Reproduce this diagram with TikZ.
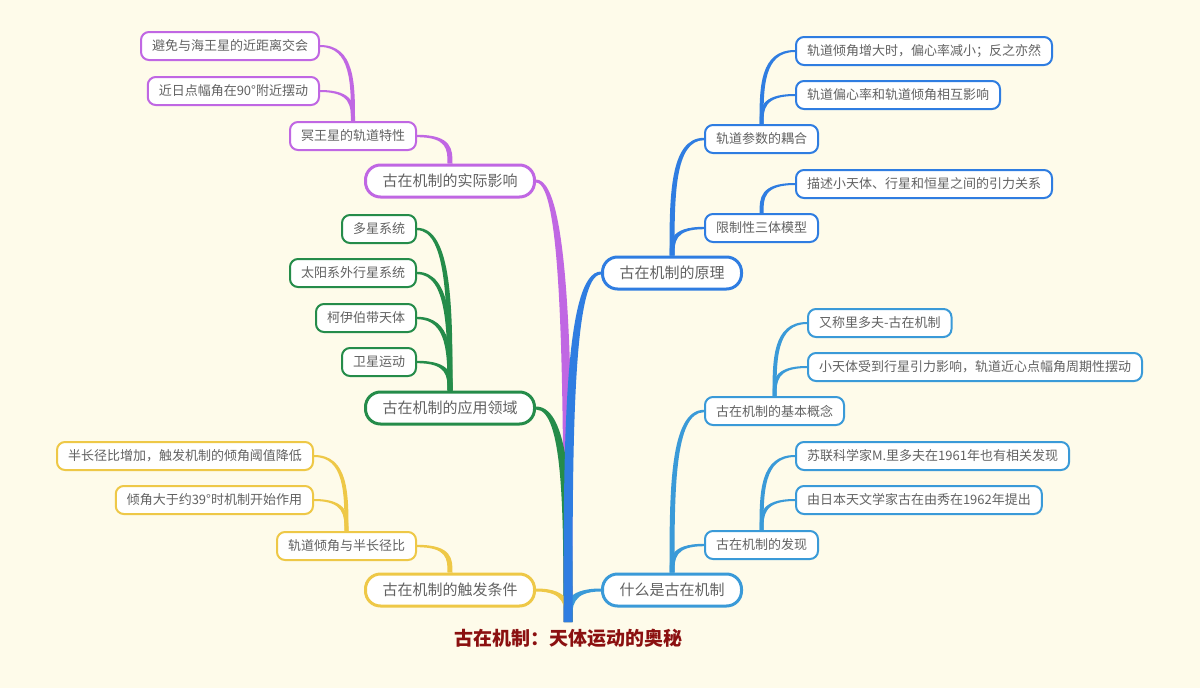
\documentclass[tikz,border=0pt]{standalone}
\usepackage{fontspec}
\setmainfont{Noto Sans CJK SC}
\usetikzlibrary{calc}
\pgfdeclarelayer{bglayer}
\pgfdeclarelayer{connlayer}
\pgfsetlayers{bglayer,connlayer,main}
\definecolor{bg}{HTML}{FEFBEA}
\definecolor{cpur}{HTML}{C067E3}
\definecolor{cgrn}{HTML}{258C4A}
\definecolor{cyel}{HTML}{EEC847}
\definecolor{cblu}{HTML}{2F7DE1}
\definecolor{clbl}{HTML}{3A9AD8}
\definecolor{txt}{HTML}{626262}
\definecolor{rootred}{HTML}{8B1010}
\newcommand{\rootfs}{\fontsize{19}{23}\selectfont}
\newcommand{\mainfs}{\fontsize{15}{18}\selectfont}
\newcommand{\subfs}{\fontsize{13}{16}\selectfont}
% tapered connector: #1 colour, #2 vertical end, #3 horizontal end, #4 half width at #2, #5 half width at #3, #6 sign
\newcommand{\conn}[6]{%
  \fill[#1] let \p1=(#2), \p2=(#3), \p3=($(#2)!.5!(#3)$) in
    ({\x1-(#6)*#4},\y1) .. controls ({\x1-(#6)*#4},\y3) and ({\x1-(#6)*#4},{\y2+#5}) .. (\x2,{\y2+#5})
    -- (\x2,{\y2-#5}) .. controls ({\x1+(#6)*#4},{\y2-#5}) and ({\x1+(#6)*#4},\y3) .. ({\x1+(#6)*#4},\y1) -- cycle;}
\tikzset{
  mainbox/.style={draw=#1, line width=3pt, fill=white, rounded corners=15pt,
    minimum height=32pt, inner xsep=17pt, inner ysep=0pt, font=\mainfs, text=txt},
  subbox/.style={draw=#1, line width=2pt, fill=white, rounded corners=8pt,
    minimum height=28pt, inner xsep=11pt, inner ysep=0pt, font=\subfs, text=txt}
}
\begin{document}
\begin{tikzpicture}[x=1pt,y=-1pt]
\begin{pgfonlayer}{bglayer}
\fill[bg] (0,0) rectangle (1200,688);
\end{pgfonlayer}
\useasboundingbox (0,0) rectangle (1200,688);

% root
\node[font=\rootfs\bfseries, text=rootred, inner sep=0pt] (root) at (568,638) {古在机制：天体运动的奥秘};
\coordinate (trunk) at (568,622);

% main nodes
\node[mainbox=cpur, anchor=east] (m1) at (536,181) {古在机制的实际影响};
\node[mainbox=cgrn, anchor=east] (m2) at (536,408) {古在机制的应用领域};
\node[mainbox=cyel, anchor=east] (m3) at (536,590) {古在机制的触发条件};
\node[mainbox=cblu, anchor=west] (m4) at (601,273) {古在机制的原理};
\node[mainbox=clbl, anchor=west] (m5) at (601,590) {什么是古在机制};

% purple
\node[subbox=cpur, anchor=east] (p1) at (417,136) {冥王星的轨道特性};
\node[subbox=cpur, anchor=east] (p11) at (320,46) {避免与海王星的近距离交会};
\node[subbox=cpur, anchor=east] (p12) at (320,91) {近日点幅角在90°附近摆动};
% green
\node[subbox=cgrn, anchor=east] (g1) at (417,229) {多星系统};
\node[subbox=cgrn, anchor=east] (g2) at (417,273) {太阳系外行星系统};
\node[subbox=cgrn, anchor=east] (g3) at (417,318) {柯伊伯带天体};
\node[subbox=cgrn, anchor=east] (g4) at (417,362) {卫星运动};
% yellow
\node[subbox=cyel, anchor=east] (y1) at (417,546) {轨道倾角与半长径比};
\node[subbox=cyel, anchor=east] (y11) at (314,456) {半长径比增加，触发机制的倾角阈值降低};
\node[subbox=cyel, anchor=east] (y12) at (314,500) {倾角大于约39°时机制开始作用};
% blue
\node[subbox=cblu, anchor=west] (b1) at (704,139) {轨道参数的耦合};
\node[subbox=cblu, anchor=west] (b11) at (795,51) {轨道倾角增大时，偏心率减小；反之亦然};
\node[subbox=cblu, anchor=west] (b12) at (795,95) {轨道偏心率和轨道倾角相互影响};
\node[subbox=cblu, anchor=west] (b2) at (704,228) {限制性三体模型};
\node[subbox=cblu, anchor=west] (b21) at (795,184) {描述小天体、行星和恒星之间的引力关系};
% light blue
\node[subbox=clbl, anchor=west] (l1) at (704,411) {古在机制的基本概念};
\node[subbox=clbl, anchor=west] (l11) at (807,323) {又称里多夫-古在机制};
\node[subbox=clbl, anchor=west] (l12) at (807,367) {小天体受到行星引力影响，轨道近心点幅角周期性摆动};
\node[subbox=clbl, anchor=west] (l2) at (704,545) {古在机制的发现};
\node[subbox=clbl, anchor=west] (l21) at (795,456) {苏联科学家M.里多夫在1961年也有相关发现};
\node[subbox=clbl, anchor=west] (l22) at (795,500) {由日本天文学家古在由秀在1962年提出};

% connectors, behind the nodes
\begin{pgfonlayer}{connlayer}
% leaf connectors
\conn{cpur}{p1.north}{p11.east}{2pt}{1pt}{-1}
\conn{cpur}{p1.north}{p12.east}{2pt}{1pt}{-1}
\conn{cyel}{y1.north}{y11.east}{2pt}{1pt}{-1}
\conn{cyel}{y1.north}{y12.east}{2pt}{1pt}{-1}
\conn{cblu}{b1.north}{b11.west}{2pt}{1pt}{1}
\conn{cblu}{b1.north}{b12.west}{2pt}{1pt}{1}
\conn{cblu}{b2.north}{b21.west}{2pt}{1pt}{1}
\conn{clbl}{l1.north}{l11.west}{2pt}{1pt}{1}
\conn{clbl}{l1.north}{l12.west}{2pt}{1pt}{1}
\conn{clbl}{l2.north}{l21.west}{2pt}{1pt}{1}
\conn{clbl}{l2.north}{l22.west}{2pt}{1pt}{1}
% second level connectors
\conn{cpur}{m1.north}{p1.east}{2.5pt}{1.2pt}{-1}
\conn{cgrn}{m2.north}{g1.east}{2.5pt}{1.2pt}{-1}
\conn{cgrn}{m2.north}{g2.east}{2.5pt}{1.2pt}{-1}
\conn{cgrn}{m2.north}{g3.east}{2.5pt}{1.2pt}{-1}
\conn{cgrn}{m2.north}{g4.east}{2.5pt}{1.2pt}{-1}
\conn{cyel}{m3.north}{y1.east}{2.5pt}{1.2pt}{-1}
\conn{cblu}{m4.north}{b1.west}{2.5pt}{1.2pt}{1}
\conn{cblu}{m4.north}{b2.west}{2.5pt}{1.2pt}{1}
\conn{clbl}{m5.north}{l1.west}{2.5pt}{1.2pt}{1}
\conn{clbl}{m5.north}{l2.west}{2.5pt}{1.2pt}{1}
% main branches from the root
\conn{cpur}{trunk}{m1.east}{4.5pt}{1.5pt}{-1}
\conn{cgrn}{trunk}{m2.east}{4.5pt}{1.5pt}{-1}
\conn{cyel}{trunk}{m3.east}{3pt}{1.5pt}{-1}
\conn{clbl}{trunk}{m5.west}{4pt}{1.5pt}{1}
\conn{cblu}{trunk}{m4.west}{4.5pt}{1.5pt}{1}
\end{pgfonlayer}
\end{tikzpicture}
\end{document}
